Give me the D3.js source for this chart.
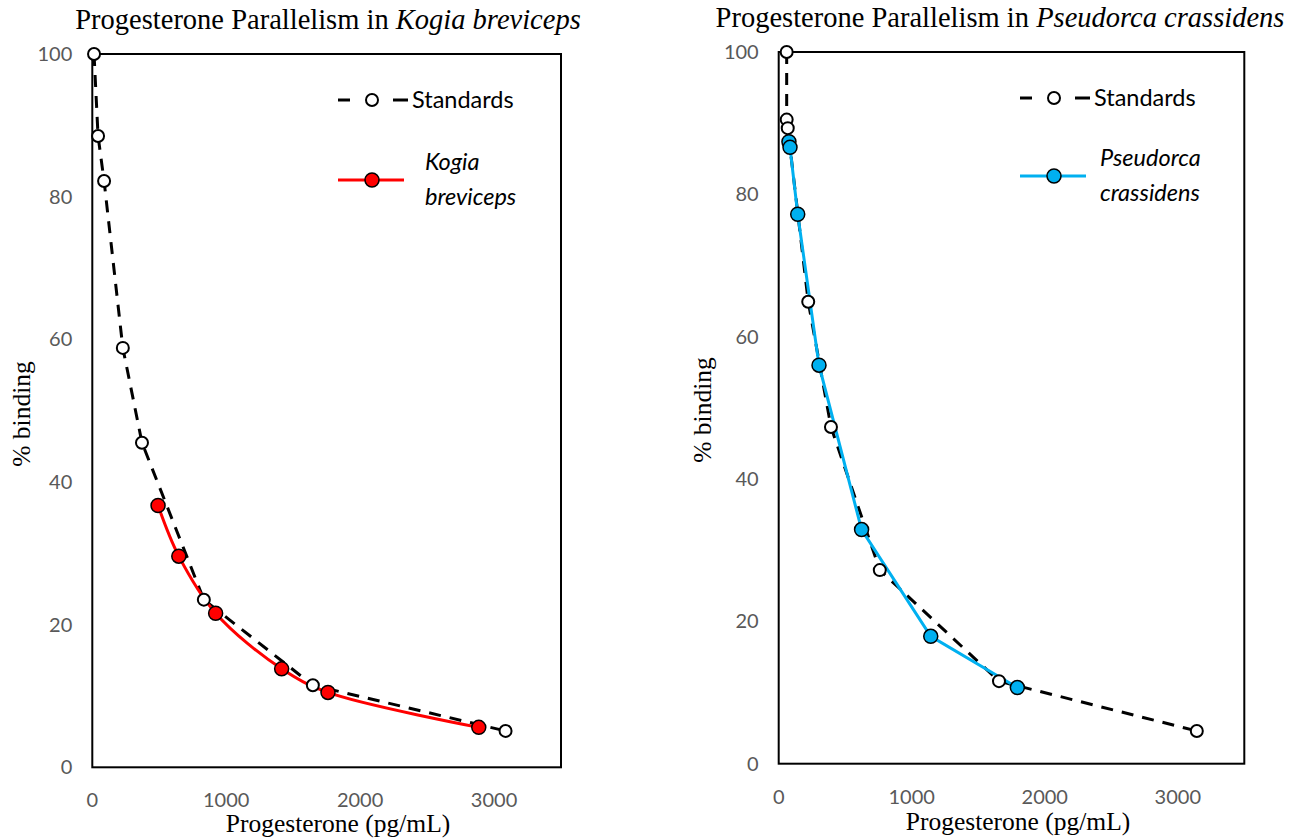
<!DOCTYPE html>
<html>
<head>
<meta charset="utf-8">
<script src="https://cdn.jsdelivr.net/npm/d3@7"></script>
<style>
  body { margin: 0; background: #fff; }
  .tick-label { font-family: Lato, "Open Sans", sans-serif; font-size: 20px; fill: #595959; }
  .axis-title { font-family: "Liberation Serif", "Times New Roman", serif; font-size: 25.5px; fill: #000; }
  .chart-title { font-family: "Liberation Serif", "Times New Roman", serif; font-size: 28.5px; fill: #000; }
  .legend-text { font-family: Lato, "Open Sans", sans-serif; font-size: 23.5px; fill: #000; }
</style>
</head>
<body>
<script>
let width = 1299;
let height = 840;

// axis ticks shared by both panels
let xTicks = [0, 1000, 2000, 3000];
let yTicks = [0, 20, 40, 60, 80, 100];

// Kogia breviceps panel
let kogiaStdX = [13, 43, 88, 228, 371, 833, 1647, 3086];
let kogiaStdY = [100, 88.5, 82.2, 58.8, 45.5, 23.5, 11.5, 5.1];
let kogiaX = [491, 646, 921, 1414, 1760, 2886];
let kogiaY = [36.7, 29.6, 21.6, 13.8, 10.5, 5.6];

// Pseudorca crassidens panel
let pseudoStdX = [60, 60, 68, 222, 393, 760, 1656, 3143];
let pseudoStdY = [100, 90.5, 89.3, 64.9, 47.3, 27.2, 11.6, 4.6];
let pseudoX = [77, 85, 143, 303, 623, 1143, 1794];
let pseudoY = [87.4, 86.6, 77.2, 56.0, 32.9, 17.9, 10.7];

let svg = d3.select('body')
    .append('svg')
    .attr('width', width)
    .attr('height', height);

let panels = [
  {
    box: {left: 92.3, top: 54, right: 561, bottom: 767.3},
    title: ['Progesterone Parallelism in ', 'Kogia breviceps'],
    titleX: 328, titleY: 29,
    yTitleX: 30, yTitleY: 414, xTitleX: 338, xTitleY: 832,
    std: kogiaStdX.map((x, i) => ({x: x, y: kogiaStdY[i]})),
    sample: kogiaX.map((x, i) => ({x: x, y: kogiaY[i]})),
    color: '#FF0000',
    curve: d3.curveCatmullRom,
    legend: {x: 338, y1: 100, y2: 180, name: ['Kogia', 'breviceps'], textX: 425}
  },
  {
    box: {left: 778.7, top: 52, right: 1244.3, bottom: 763.7},
    title: ['Progesterone Parallelism in ', 'Pseudorca crassidens'],
    titleX: 1000, titleY: 27,
    yTitleX: 711, yTitleY: 410, xTitleX: 1018, xTitleY: 830,
    std: pseudoStdX.map((x, i) => ({x: x, y: pseudoStdY[i]})),
    sample: pseudoX.map((x, i) => ({x: x, y: pseudoY[i]})),
    color: '#00B0F0',
    curve: d3.curveLinear,
    legend: {x: 1020, y1: 98, y2: 176, name: ['Pseudorca', 'crassidens'], textX: 1100}
  }
];

panels.forEach(p => {
  let b = p.box;
  let x = d3.scaleLinear().domain([0, 3500]).range([b.left, b.right]);
  let y = d3.scaleLinear().domain([0, 100]).range([b.bottom, b.top]);
  let g = svg.append('g');

  // title with italic species name
  let t = g.append('text')
      .attr('class', 'chart-title')
      .attr('x', p.titleX)
      .attr('y', p.titleY)
      .attr('text-anchor', 'middle');
  t.append('tspan').text(p.title[0]);
  t.append('tspan').attr('font-style', 'italic').text(p.title[1]);

  // tick labels (Excel style, no tick marks)
  g.selectAll('.ylab')
    .data(yTicks)
    .enter().append('text')
      .attr('class', 'tick-label')
      .attr('x', b.left - 20)
      .attr('y', d => y(d))
      .attr('dy', '0.35em')
      .attr('text-anchor', 'end')
      .text(d => d);

  g.selectAll('.xlab')
    .data(xTicks)
    .enter().append('text')
      .attr('class', 'tick-label')
      .attr('x', d => x(d))
      .attr('y', b.bottom + 33)
      .attr('dy', '0.35em')
      .attr('text-anchor', 'middle')
      .text(d => d);

  g.append('text')
      .attr('class', 'axis-title')
      .attr('transform', `translate(${p.yTitleX},${p.yTitleY}) rotate(-90)`)
      .attr('text-anchor', 'middle')
      .text('% binding');

  g.append('text')
      .attr('class', 'axis-title')
      .attr('x', p.xTitleX)
      .attr('y', p.xTitleY)
      .attr('text-anchor', 'middle')
      .text('Progesterone (pg/mL)');

  // plot border
  g.append('rect')
      .attr('x', b.left)
      .attr('y', b.top)
      .attr('width', b.right - b.left)
      .attr('height', b.bottom - b.top)
      .attr('fill', 'none')
      .attr('stroke', '#000')
      .attr('stroke-width', 2);

  // standards: dashed line + open circles
  let stdLine = d3.line().x(d => x(d.x)).y(d => y(d.y));
  g.append('path')
      .datum(p.std)
      .attr('d', stdLine)
      .attr('fill', 'none')
      .attr('stroke', '#000')
      .attr('stroke-width', 3)
      .attr('stroke-dasharray', '12,9');

  // sample line
  let sampleLine = d3.line().curve(p.curve).x(d => x(d.x)).y(d => y(d.y));
  g.append('path')
      .datum(p.sample)
      .attr('d', sampleLine)
      .attr('fill', 'none')
      .attr('stroke', p.color)
      .attr('stroke-width', 3);

  g.selectAll('.std')
    .data(p.std)
    .enter().append('circle')
      .attr('cx', d => x(d.x))
      .attr('cy', d => y(d.y))
      .attr('r', 6)
      .attr('fill', '#fff')
      .attr('stroke', '#000')
      .attr('stroke-width', 2);

  g.selectAll('.smp')
    .data(p.sample)
    .enter().append('circle')
      .attr('cx', d => x(d.x))
      .attr('cy', d => y(d.y))
      .attr('r', 7)
      .attr('fill', p.color)
      .attr('stroke', '#000')
      .attr('stroke-width', 1.5);

  // legend
  let L = p.legend;
  let lg = g.append('g');
  lg.append('line')
      .attr('x1', L.x).attr('x2', L.x + 12)
      .attr('y1', L.y1).attr('y2', L.y1)
      .attr('stroke', '#000').attr('stroke-width', 3);
  lg.append('line')
      .attr('x1', L.x + 55).attr('x2', L.x + 70)
      .attr('y1', L.y1).attr('y2', L.y1)
      .attr('stroke', '#000').attr('stroke-width', 3);
  lg.append('circle')
      .attr('cx', L.x + 34).attr('cy', L.y1).attr('r', 6)
      .attr('fill', '#fff').attr('stroke', '#000').attr('stroke-width', 2);
  lg.append('text')
      .attr('class', 'legend-text')
      .attr('x', L.x + 74).attr('y', L.y1).attr('dy', '0.35em')
      .text('Standards');

  lg.append('line')
      .attr('x1', L.x).attr('x2', L.x + 66)
      .attr('y1', L.y2).attr('y2', L.y2)
      .attr('stroke', p.color).attr('stroke-width', 3);
  lg.append('circle')
      .attr('cx', L.x + 34).attr('cy', L.y2).attr('r', 7)
      .attr('fill', p.color).attr('stroke', '#000').attr('stroke-width', 1.5);
  lg.selectAll('.lname')
    .data(L.name)
    .enter().append('text')
      .attr('class', 'legend-text')
      .attr('font-style', 'italic')
      .attr('x', L.textX)
      .attr('y', (d, i) => L.y2 - 18 + i * 35)
      .attr('dy', '0.35em')
      .text(d => d);
});
</script>
</body>
</html>
